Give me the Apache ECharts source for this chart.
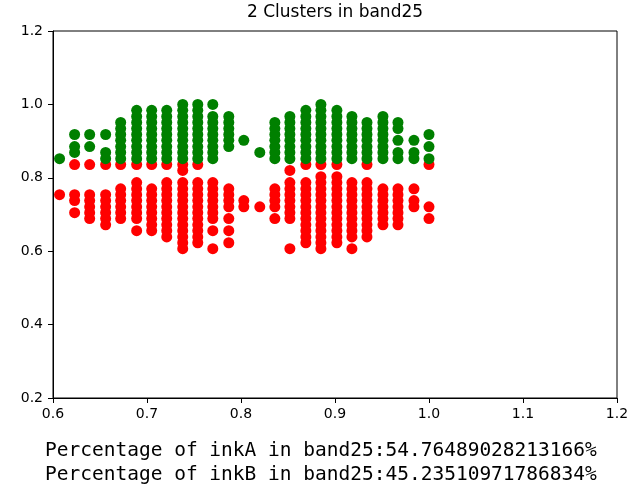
<!DOCTYPE html>
<html>
<head>
<meta charset="utf-8">
<script src="https://cdn.jsdelivr.net/npm/echarts@6/dist/echarts.min.js"></script>
<style>
  html, body { margin: 0; padding: 0; background: #fff; }
  #chart { width: 639px; height: 492px; }
</style>
</head>
<body>
<div id="chart"></div>
<script>
// Column x positions (normalised band25 value)
const colX = [0.607, 0.623, 0.639, 0.656, 0.672, 0.689, 0.705, 0.721, 0.738, 0.754,
              0.770, 0.787, 0.803, 0.820, 0.836, 0.852, 0.869, 0.885, 0.902, 0.918,
              0.934, 0.951, 0.967, 0.984, 1.000];

// Cluster drawn in green: y values of the points in each column
const greenY = [
  [0.852],
  [0.918, 0.885, 0.869],
  [0.918, 0.885],
  [0.918, 0.869, 0.852],
  [0.852, 0.869, 0.885, 0.902, 0.918, 0.934, 0.951],
  [0.852, 0.869, 0.885, 0.902, 0.918, 0.934, 0.951, 0.967, 0.984],
  [0.852, 0.869, 0.885, 0.902, 0.918, 0.934, 0.951, 0.967, 0.984],
  [0.852, 0.869, 0.885, 0.902, 0.918, 0.934, 0.951, 0.967, 0.984],
  [0.852, 0.869, 0.885, 0.902, 0.918, 0.934, 0.951, 0.967, 0.984, 1.000],
  [0.852, 0.869, 0.885, 0.902, 0.918, 0.934, 0.951, 0.967, 0.984, 1.000],
  [0.852, 0.869, 0.885, 0.902, 0.918, 0.934, 0.951, 0.967, 1.000],
  [0.885, 0.902, 0.918, 0.934, 0.951, 0.967],
  [0.902],
  [0.869],
  [0.852, 0.869, 0.885, 0.902, 0.918, 0.934, 0.951],
  [0.852, 0.869, 0.885, 0.902, 0.918, 0.934, 0.951, 0.967],
  [0.852, 0.869, 0.885, 0.902, 0.918, 0.934, 0.951, 0.967, 0.984],
  [0.852, 0.869, 0.885, 0.902, 0.918, 0.934, 0.951, 0.967, 0.984, 1.000],
  [0.852, 0.869, 0.885, 0.902, 0.918, 0.934, 0.951, 0.967, 0.984],
  [0.852, 0.869, 0.885, 0.902, 0.918, 0.934, 0.951, 0.967],
  [0.852, 0.869, 0.885, 0.902, 0.918, 0.934, 0.951],
  [0.852, 0.869, 0.885, 0.902, 0.918, 0.934, 0.951, 0.967],
  [0.852, 0.869, 0.902, 0.934, 0.951],
  [0.852, 0.869, 0.902],
  [0.852, 0.885, 0.918]
];

// Cluster drawn in red: y values of the points in each column
const redY = [
  [0.754],
  [0.836, 0.754, 0.738, 0.705],
  [0.836, 0.754, 0.738, 0.721, 0.705, 0.689],
  [0.836, 0.754, 0.738, 0.721, 0.705, 0.689, 0.672],
  [0.836, 0.770, 0.754, 0.738, 0.721, 0.705, 0.689],
  [0.836, 0.787, 0.770, 0.754, 0.738, 0.721, 0.705, 0.689, 0.656],
  [0.836, 0.770, 0.754, 0.738, 0.721, 0.705, 0.689, 0.672, 0.656],
  [0.836, 0.787, 0.770, 0.754, 0.738, 0.721, 0.705, 0.689, 0.672, 0.656, 0.639],
  [0.836, 0.820, 0.787, 0.770, 0.754, 0.738, 0.721, 0.705, 0.689, 0.672, 0.656, 0.639, 0.623, 0.607],
  [0.836, 0.787, 0.770, 0.754, 0.738, 0.721, 0.705, 0.689, 0.672, 0.656, 0.639, 0.623],
  [0.787, 0.770, 0.754, 0.738, 0.721, 0.705, 0.689, 0.656, 0.607],
  [0.770, 0.754, 0.738, 0.721, 0.689, 0.656, 0.623],
  [0.738, 0.721],
  [0.721],
  [0.770, 0.754, 0.738, 0.721, 0.689],
  [0.820, 0.787, 0.770, 0.754, 0.738, 0.721, 0.705, 0.689, 0.607],
  [0.836, 0.787, 0.770, 0.754, 0.738, 0.721, 0.705, 0.689, 0.672, 0.656, 0.639, 0.623],
  [0.836, 0.803, 0.787, 0.770, 0.754, 0.738, 0.721, 0.705, 0.689, 0.672, 0.656, 0.639, 0.623, 0.607],
  [0.836, 0.803, 0.787, 0.770, 0.754, 0.738, 0.721, 0.705, 0.689, 0.672, 0.656, 0.639, 0.623],
  [0.787, 0.770, 0.754, 0.738, 0.721, 0.705, 0.689, 0.672, 0.656, 0.639, 0.607],
  [0.836, 0.787, 0.770, 0.754, 0.738, 0.721, 0.705, 0.689, 0.672, 0.656, 0.639],
  [0.770, 0.754, 0.738, 0.721, 0.705, 0.689, 0.672],
  [0.770, 0.754, 0.738, 0.721, 0.705, 0.689, 0.672],
  [0.770, 0.738, 0.721],
  [0.836, 0.721, 0.689]
];

const xTicks = ['0.6', '0.7', '0.8', '0.9', '1.0', '1.1', '1.2'];
const yTicks = ['0.2', '0.4', '0.6', '0.8', '1.0', '1.2'];
const titleText = '2 Clusters in band25';
const footerLines = [
  'Percentage of inkA in band25:54.76489028213166%',
  'Percentage of inkB in band25:45.23510971786834%'
];

function toPoints(ys) {
  const pts = [];
  ys.forEach((col, i) => col.forEach(y => pts.push([colX[i], y])));
  return pts;
}

const chart = echarts.init(document.getElementById('chart'), null, { renderer: 'canvas' });
const font = 'DejaVu Sans';
chart.setOption({
  animation: false,
  backgroundColor: '#ffffff',
  grid: { left: 53, right: 22, top: 31, bottom: 94, show: true, borderColor: '#000', borderWidth: 1, backgroundColor: 'transparent' },
  xAxis: {
    type: 'value', min: 0.6, max: 1.2, interval: 0.1,
    axisLine: { show: true, lineStyle: { color: '#000', width: 1 } },
    axisTick: { show: true, length: 5, lineStyle: { color: '#000' } },
    splitLine: { show: false },
    axisLabel: { color: '#000', fontFamily: font, fontSize: 14, margin: 9,
      formatter: v => xTicks[Math.round((v - 0.6) / 0.1)] }
  },
  yAxis: {
    type: 'value', min: 0.2, max: 1.2, interval: 0.2,
    axisLine: { show: true, lineStyle: { color: '#000', width: 1 } },
    axisTick: { show: true, length: 5, lineStyle: { color: '#000' } },
    splitLine: { show: false },
    axisLabel: { color: '#000', fontFamily: font, fontSize: 14, margin: 10,
      formatter: v => yTicks[Math.round((v - 0.2) / 0.2)] }
  },
  series: [
    { type: 'scatter', name: 'red', data: toPoints(redY), symbol: 'circle', symbolSize: 11,
      itemStyle: { color: '#ff0000', opacity: 1 }, silent: true },
    { type: 'scatter', name: 'green', data: toPoints(greenY), symbol: 'circle', symbolSize: 11,
      itemStyle: { color: '#008000', opacity: 1 }, silent: true }
  ],
  graphic: [
    { type: 'text', style: { text: titleText, x: 335, y: 13, align: 'center', verticalAlign: 'middle',
        fontFamily: font, fontSize: 17, fill: '#000' } },
    { type: 'text', style: { text: footerLines[0], x: 45, y: 451, align: 'left', verticalAlign: 'middle',
        fontFamily: 'DejaVu Sans Mono', fontSize: 19.5, fill: '#000' } },
    { type: 'text', style: { text: footerLines[1], x: 45, y: 475, align: 'left', verticalAlign: 'middle',
        fontFamily: 'DejaVu Sans Mono', fontSize: 19.5, fill: '#000' } }
  ]
});
</script>
</body>
</html>
